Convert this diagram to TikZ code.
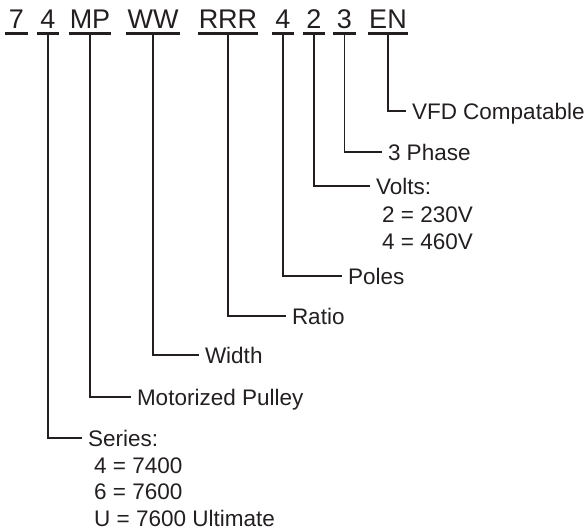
\documentclass[tikz,border=0pt]{standalone}
\usepackage{fontspec}
\setmainfont{Liberation Sans}
\usetikzlibrary{positioning}
\definecolor{ink}{HTML}{231F20}

\begin{document}
\begin{tikzpicture}[x=1pt, y=-1pt, color=ink, text=ink,
    code/.style={font=\fontsize{27}{32}\selectfont, inner xsep=1pt, inner ysep=5.5pt,
      text depth=0pt, minimum width=22pt, anchor=base},
    under/.style={line width=2.6pt},
    lbl/.style={font=\fontsize{22.5}{27}\selectfont, inner sep=0pt, outer xsep=6pt,
      text height=16pt, text depth=0pt, anchor=west},
    val/.style={font=\fontsize{22.5}{27}\selectfont, inner sep=0pt, anchor=base west},
    leader/.style={line width=1.35pt}]
  \useasboundingbox (0,0) rectangle (587,531);

  % model code
  \node[code] (cSeven) at (16.5,28) {7};
  \node[code] (cSeries) at (48,28) {4};
  \node[code] (cMotor) at (90,28) {MP};
  \node[code] (cWidth) at (153,28) {WW};
  \node[code] (cRatio) at (228,28) {RRR};
  \node[code] (cPoles) at (283,28) {4};
  \node[code] (cVolts) at (314,28) {2};
  \node[code] (cPhase) at (344.5,28) {3};
  \node[code] (cVfd) at (388,28) {EN};
  \foreach \n in {cSeven,cSeries,cMotor,cWidth,cRatio,cPoles,cVolts,cPhase,cVfd}
    \draw[under] (\n.south west) -- (\n.south east);

  % descriptions
  \node[lbl] (vfd) at (406,111) {VFD Compatable};
  \node[lbl] (phase) at (382,152) {3 Phase};
  \node[lbl] (volts) at (370,186) {Volts:};
  \node[val] (v230) at (382,222) {2 = 230V};
  \node[val] (v460) at (382,249) {4 = 460V};
  \node[lbl] (poles) at (342,276) {Poles};
  \node[lbl] (ratio) at (286,316) {Ratio};
  \node[lbl] (width) at (199,355) {Width};
  \node[lbl] (motor) at (131,397) {Motorized Pulley};
  \node[lbl] (series) at (82,438) {Series:};
  \node[val] (s7400) at (94,473) {4 = 7400};
  \node[val] (s7600) at (94,499.5) {6 = 7600};
  \node[val] (sUlt) at (94,526) {U = 7600 Ultimate};

  \draw[leader]
    (cVfd.south) |- (vfd.west)
    (cPhase.south) |- (phase.west)
    (cVolts.south) |- (volts.west)
    (cPoles.south) |- (poles.west)
    (cRatio.south) |- (ratio.west)
    (cWidth.south) |- (width.west)
    (cMotor.south) |- (motor.west)
    (cSeries.south) |- (series.west);
\end{tikzpicture}
\end{document}
